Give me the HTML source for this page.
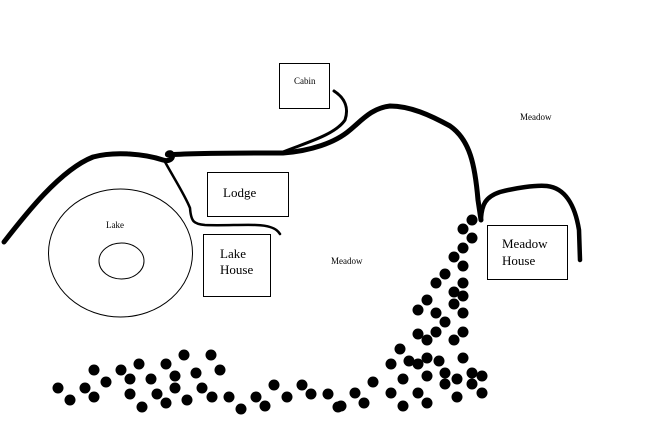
<!DOCTYPE html>
<html><head><meta charset="utf-8"><style>
html,body{margin:0;padding:0;background:#fff;}
svg{display:block;}
text{font-family:"Liberation Serif",serif;fill:#000;}
</style></head><body>
<svg width="649" height="433" viewBox="0 0 649 433" xmlns="http://www.w3.org/2000/svg">
<rect width="649" height="433" fill="#fff"/>
<g fill="none" stroke="#000">
<!-- lake -->
<ellipse cx="120.5" cy="253" rx="72" ry="64" stroke-width="1"/>
<ellipse cx="121.5" cy="261" rx="22.5" ry="18" stroke-width="1"/>
<!-- boxes -->
<rect x="279.5" y="63.5" width="50" height="45" stroke-width="1"/>
<rect x="207.5" y="172.5" width="81" height="44" stroke-width="1"/>
<rect x="203.5" y="234.5" width="67" height="62" stroke-width="1"/>
<rect x="487.5" y="225.5" width="80" height="54" stroke-width="1"/>
<!-- main road -->
<path d="M4,242 C25,215 60,170 93,157 C115,151 145,154 163,160 C170,162 174,158 172,154 C170,151 166,154 168,155 C190,153 240,153 283,153 C310,151 335,143 350,130 C362,120 372,108 390,106 C410,106 430,115 450,126 C470,140 475,165 478,200 L481,220" stroke-width="5" stroke-linecap="round" stroke-linejoin="round"/>
<path d="M481,218 C482,205 485,197 500,192 C515,188 535,185 547,186 C565,188 575,205 579,230 L580,260" stroke-width="4.5" stroke-linecap="round"/>
<!-- cabin road -->
<path d="M334,91 C345,98 349,108 345,120 C335,135 305,143 283,152" stroke-width="3" stroke-linecap="round"/>
<!-- lodge branch -->
<path d="M164,160 C172,175 185,195 190,208 C191,222 194,224 205,225 C230,226 260,223 270,227 C276,229 278,231 280,234" stroke-width="2.5" stroke-linecap="round"/>
</g>
<g fill="#000">
<circle cx="58" cy="388" r="5.5"/><circle cx="70" cy="400" r="5.5"/><circle cx="85" cy="388" r="5.5"/><circle cx="94" cy="397" r="5.5"/><circle cx="94" cy="370" r="5.5"/><circle cx="106" cy="382" r="5.5"/><circle cx="121" cy="370" r="5.5"/><circle cx="130" cy="379" r="5.5"/><circle cx="130" cy="394" r="5.5"/><circle cx="139" cy="364" r="5.5"/><circle cx="142" cy="407" r="5.5"/><circle cx="151" cy="379" r="5.5"/><circle cx="157" cy="394" r="5.5"/><circle cx="166" cy="364" r="5.5"/><circle cx="166" cy="403" r="5.5"/><circle cx="175" cy="376" r="5.5"/><circle cx="175" cy="388" r="5.5"/><circle cx="184" cy="355" r="5.5"/><circle cx="187" cy="400" r="5.5"/><circle cx="196" cy="373" r="5.5"/><circle cx="202" cy="388" r="5.5"/><circle cx="211" cy="355" r="5.5"/><circle cx="212" cy="397" r="5.5"/><circle cx="220" cy="370" r="5.5"/><circle cx="229" cy="397" r="5.5"/><circle cx="241" cy="409" r="5.5"/><circle cx="256" cy="397" r="5.5"/><circle cx="265" cy="406" r="5.5"/><circle cx="274" cy="385" r="5.5"/><circle cx="287" cy="397" r="5.5"/><circle cx="302" cy="385" r="5.5"/><circle cx="311" cy="394" r="5.5"/><circle cx="328" cy="394" r="5.5"/><circle cx="338" cy="407" r="5.5"/>
<circle cx="472" cy="220" r="5.5"/><circle cx="463" cy="229" r="5.5"/><circle cx="472" cy="238" r="5.5"/><circle cx="463" cy="248" r="5.5"/><circle cx="454" cy="257" r="5.5"/><circle cx="463" cy="266" r="5.5"/><circle cx="445" cy="274" r="5.5"/><circle cx="436" cy="283" r="5.5"/><circle cx="463" cy="283" r="5.5"/><circle cx="454" cy="292" r="5.5"/><circle cx="463" cy="296" r="5.5"/><circle cx="427" cy="300" r="5.5"/><circle cx="454" cy="304" r="5.5"/><circle cx="418" cy="310" r="5.5"/><circle cx="436" cy="313" r="5.5"/><circle cx="463" cy="313" r="5.5"/><circle cx="445" cy="322" r="5.5"/><circle cx="418" cy="334" r="5.5"/><circle cx="436" cy="332" r="5.5"/><circle cx="427" cy="340" r="5.5"/><circle cx="454" cy="340" r="5.5"/><circle cx="463" cy="332" r="5.5"/><circle cx="400" cy="349" r="5.5"/><circle cx="391" cy="364" r="5.5"/><circle cx="409" cy="361" r="5.5"/><circle cx="418" cy="364" r="5.5"/><circle cx="427" cy="358" r="5.5"/><circle cx="439" cy="361" r="5.5"/><circle cx="463" cy="358" r="5.5"/><circle cx="427" cy="376" r="5.5"/><circle cx="445" cy="373" r="5.5"/><circle cx="457" cy="379" r="5.5"/><circle cx="472" cy="373" r="5.5"/><circle cx="482" cy="376" r="5.5"/><circle cx="373" cy="382" r="5.5"/><circle cx="403" cy="379" r="5.5"/><circle cx="445" cy="384" r="5.5"/><circle cx="472" cy="384" r="5.5"/><circle cx="341" cy="406" r="5.5"/><circle cx="355" cy="393" r="5.5"/><circle cx="364" cy="403" r="5.5"/><circle cx="391" cy="393" r="5.5"/><circle cx="403" cy="406" r="5.5"/><circle cx="418" cy="393" r="5.5"/><circle cx="427" cy="403" r="5.5"/><circle cx="457" cy="397" r="5.5"/><circle cx="482" cy="393" r="5.5"/>
</g>
<text x="294" y="84" font-size="9">Cabin</text>
<text x="520" y="120" font-size="9">Meadow</text>
<text x="223" y="197" font-size="13">Lodge</text>
<text x="106" y="228" font-size="9">Lake</text>
<text x="220" y="258" font-size="13">Lake</text>
<text x="220" y="274" font-size="13">House</text>
<text x="331" y="264" font-size="9">Meadow</text>
<text x="502" y="248" font-size="13">Meadow</text>
<text x="502" y="265" font-size="13">House</text>
</svg>
</body></html>
